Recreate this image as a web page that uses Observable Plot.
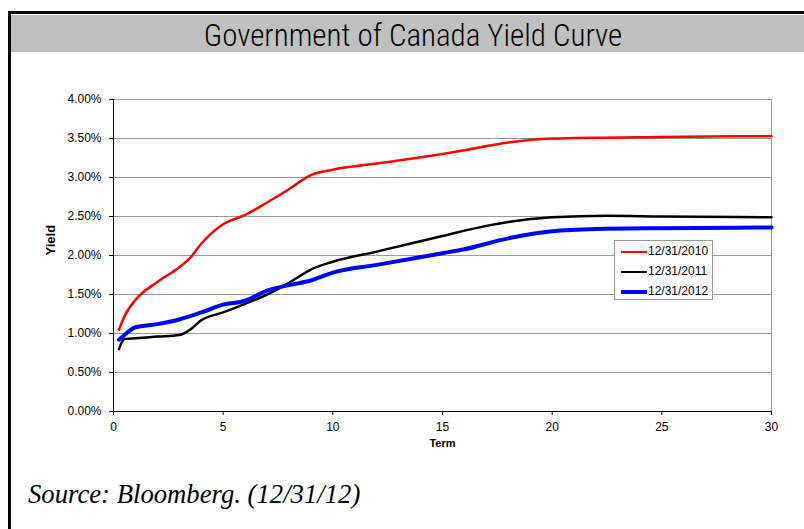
<!DOCTYPE html>
<html><head><meta charset="utf-8">
<script src="https://cdn.jsdelivr.net/npm/d3@7"></script>
<script src="https://cdn.jsdelivr.net/npm/@observablehq/plot@0.6"></script>
<style>
html,body{margin:0;padding:0;background:#fff;width:804px;height:529px;overflow:hidden;}
#frame{position:absolute;left:8px;top:11px;width:820px;height:560px;border-left:3px solid #000;border-top:3px solid #000;box-sizing:border-box;}
#title{position:absolute;left:11px;top:15px;width:800px;height:37px;background:#c0c0c0;}
#title span{position:absolute;left:-11px;top:0;width:826px;text-align:center;font-family:"Roboto Condensed",Roboto,sans-serif;font-stretch:condensed;font-weight:300;font-size:31px;line-height:41px;color:#000;}
#chart{position:absolute;left:0;top:60px;}
#legend{position:absolute;left:614px;top:240px;width:99px;height:60px;border:1px solid #999;background:#fff;box-sizing:border-box;font-family:"Liberation Sans",Arial,sans-serif;font-size:12px;}
.row{position:absolute;left:6px;height:20px;line-height:20px;white-space:nowrap;}
.sw{display:inline-block;width:26px;vertical-align:middle;margin-right:1px;}
#source{position:absolute;left:28px;top:479px;font-family:"Liberation Serif","Times New Roman",serif;font-style:italic;font-size:26.7px;}
</style></head>
<body>
<div id="frame"></div>
<div id="title"><span>Government of Canada Yield Curve</span></div>
<div id="chart"></div>
<div id="legend"></div>
<div id="source">Source: Bloomberg. (12/31/12)</div>
<script>
const terms2010 = [0.25, 0.5, 1, 2, 3, 3.5, 4, 5, 6, 7, 8, 9, 10, 12, 15, 16, 18, 20, 25, 30];
const yields2010 = [1.05, 1.22, 1.43, 1.66, 1.85, 1.97, 2.15, 2.40, 2.52, 2.68, 2.85, 3.03, 3.10, 3.18, 3.30, 3.35, 3.45, 3.50, 3.52, 3.53];
const terms2011 = [0.25, 0.5, 1, 2, 3, 3.5, 4, 5, 6, 7, 8, 9, 10, 12, 15, 17, 18, 20, 22.5, 25, 30];
const yields2011 = [0.80, 0.93, 0.94, 0.96, 0.98, 1.05, 1.17, 1.27, 1.38, 1.50, 1.65, 1.82, 1.92, 2.05, 2.25, 2.38, 2.43, 2.49, 2.51, 2.50, 2.49];
const terms2012 = [0.25, 0.5, 1, 2, 3, 4, 5, 6, 7, 8, 9, 10, 12, 15, 16, 18, 20, 22, 25, 30];
const yields2012 = [0.92, 0.98, 1.08, 1.12, 1.18, 1.27, 1.37, 1.42, 1.55, 1.62, 1.68, 1.78, 1.88, 2.03, 2.08, 2.22, 2.31, 2.34, 2.35, 2.36];
const seriesNames = ["12/31/2010", "12/31/2011", "12/31/2012"];
const seriesColors = ["#ff0000", "#000000", "#0000ff"];
const seriesWidths = [2.5, 2.5, 4];
const yTicks = [0, 0.5, 1, 1.5, 2, 2.5, 3, 3.5, 4];
const xTicks = [0, 5, 10, 15, 20, 25, 30];

const toRows = (t, y, s) => t.map((d, i) => ({term: d, yield: y[i], series: s}));
const series = [
  toRows(terms2010, yields2010, seriesNames[0]),
  toRows(terms2011, yields2011, seriesNames[1]),
  toRows(terms2012, yields2012, seriesNames[2])
];

const font = "'Liberation Sans', Arial, sans-serif";
const plot = Plot.plot({
  width: 804,
  height: 400,
  marginLeft: 113,
  marginRight: 33,
  marginTop: 39,
  marginBottom: 49,
  style: {fontFamily: font, fontSize: "12px", background: "transparent", color: "#000"},
  x: {domain: [0, 30]},
  y: {domain: [0, 4]},
  marks: [
    Plot.gridY(yTicks.filter(d => d > 0), {stroke: "#999", strokeOpacity: 1}),
    Plot.ruleX([30], {stroke: "#999"}),
    Plot.axisX(xTicks, {tickSize: 4, tickPadding: 7, label: null, stroke: "#000"}),
    Plot.axisY(yTicks, {tickSize: 4, tickPadding: 8, label: null, tickFormat: d => d.toFixed(2) + "%"}),
    Plot.ruleX([0], {stroke: "#000"}),
    Plot.ruleY([0], {stroke: "#000"}),
    ...series.map((s, i) => Plot.line(s, {x: "term", y: "yield", stroke: seriesColors[i], strokeWidth: seriesWidths[i], curve: "monotone-x"})),
    Plot.text(["Yield"], {frameAnchor: "left", dx: -63, rotate: -90, fontWeight: "bold", fontSize: 13}),
    Plot.text(["Term"], {frameAnchor: "bottom", dy: 35, fontWeight: "bold", fontSize: 11})
  ]
});
document.getElementById("chart").appendChild(plot);

const legend = document.getElementById("legend");
seriesNames.forEach((n, i) => {
  const r = document.createElement("div");
  r.className = "row";
  r.style.top = (i * 20) + "px";
  r.innerHTML = `<span class="sw" style="border-top:${seriesWidths[i]}px solid ${seriesColors[i]}"></span>${n}`;
  legend.appendChild(r);
});
</script>
</body></html>
